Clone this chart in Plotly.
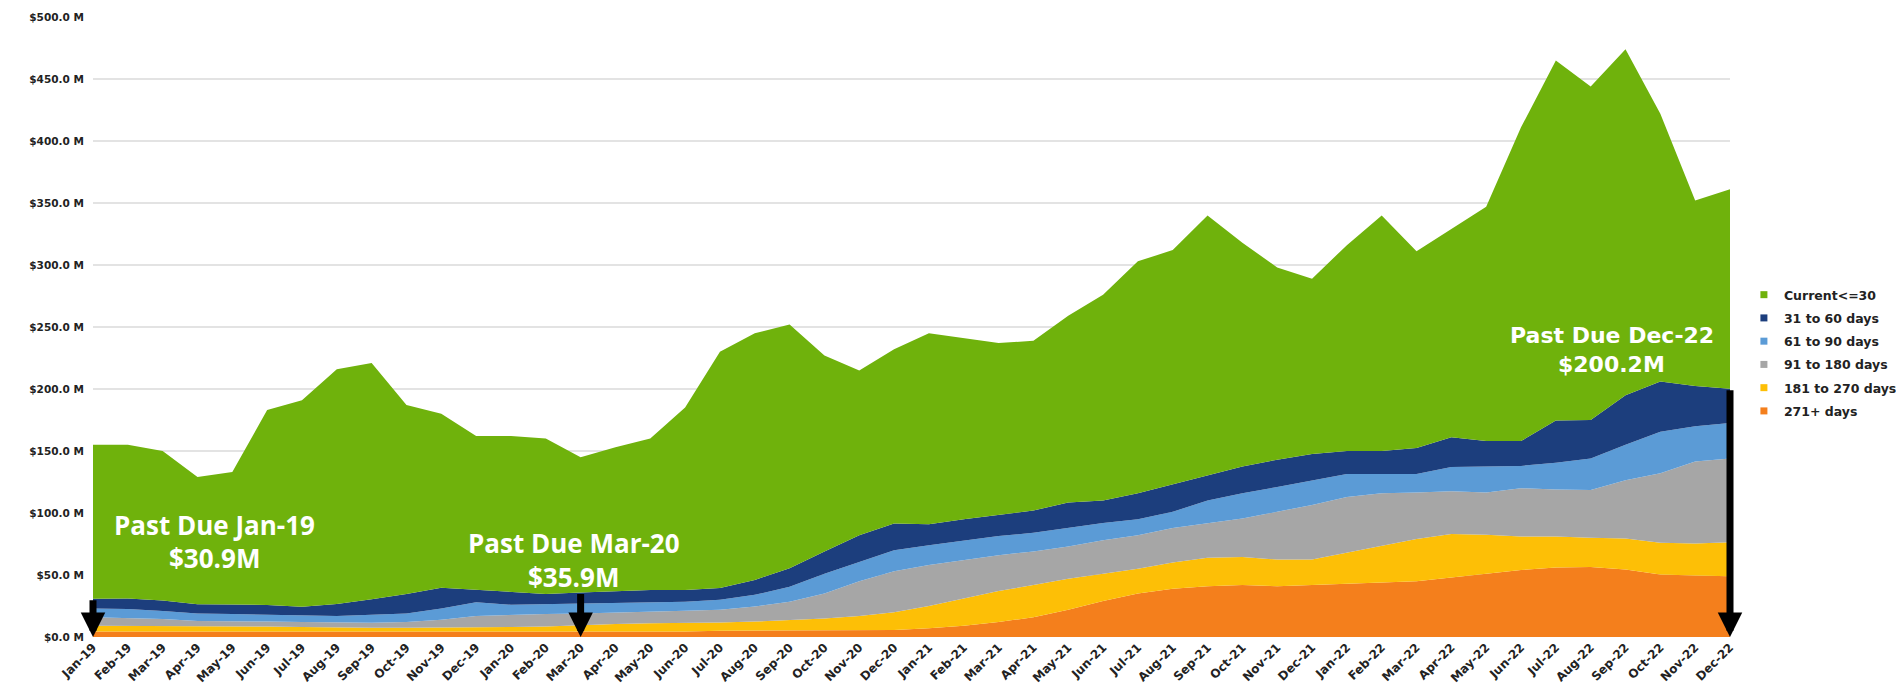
import plotly.graph_objects as go

months = ["Jan-19", "Feb-19", "Mar-19", "Apr-19", "May-19", "Jun-19", "Jul-19", "Aug-19", "Sep-19", "Oct-19", "Nov-19", "Dec-19",
          "Jan-20", "Feb-20", "Mar-20", "Apr-20", "May-20", "Jun-20", "Jul-20", "Aug-20", "Sep-20", "Oct-20", "Nov-20", "Dec-20",
          "Jan-21", "Feb-21", "Mar-21", "Apr-21", "May-21", "Jun-21", "Jul-21", "Aug-21", "Sep-21", "Oct-21", "Nov-21", "Dec-21",
          "Jan-22", "Feb-22", "Mar-22", "Apr-22", "May-22", "Jun-22", "Jul-22", "Aug-22", "Sep-22", "Oct-22", "Nov-22", "Dec-22"]

current_le_30 = [124.1, 124.0, 120.5, 102.5, 106.7, 157.2, 166.6, 189.4, 190.6, 152.3, 140.2, 124.0,
                 125.7, 125.3, 109.1, 116.0, 122.0, 147.0, 190.5, 199.0, 196.5, 158.0, 133.0, 140.5,
                 154.0, 146.0, 138.5, 137.0, 150.5, 166.0, 187.0, 189.0, 210.0, 180.5, 155.0, 141.5,
                 166.0, 190.0, 158.5, 168.0, 189.0, 253.0, 290.5, 269.0, 279.0, 216.0, 149.5, 160.8]
days_31_60 = [7.9, 8.5, 8.5, 7.5, 7.8, 7.8, 7.4, 9.6, 12.4, 15.7, 16.8, 10.0,
              10.3, 8.2, 8.9, 9.5, 10.0, 9.5, 9.5, 12.0, 15.0, 18.0, 21.5, 21.5,
              17.0, 17.0, 17.0, 18.0, 20.5, 18.0, 21.0, 22.0, 20.0, 21.5, 22.0, 21.5,
              18.5, 18.5, 21.0, 24.0, 20.5, 20.0, 34.0, 31.0, 40.0, 40.5, 32.5, 27.7]
days_61_90 = [7.0, 7.0, 6.5, 6.0, 5.5, 5.5, 5.0, 5.5, 6.5, 7.0, 9.0, 11.0,
              8.0, 8.0, 8.0, 7.9, 7.6, 7.3, 8.0, 9.5, 12.0, 16.0, 15.5, 17.0,
              16.0, 16.0, 15.5, 15.0, 15.0, 14.0, 13.0, 13.0, 18.0, 20.5, 20.0, 19.5,
              18.5, 15.5, 15.0, 19.5, 21.0, 18.0, 21.5, 25.5, 28.5, 33.5, 28.5, 28.5]
days_91_180 = [7.0, 6.5, 6.0, 4.5, 4.5, 4.0, 4.0, 4.0, 4.0, 4.5, 6.5, 9.0,
               10.0, 10.0, 9.3, 9.1, 9.4, 10.2, 10.4, 12.1, 14.8, 20.0, 28.0, 33.0,
               33.0, 31.0, 29.0, 27.0, 26.0, 27.0, 27.0, 28.0, 28.0, 31.0, 38.5, 44.0,
               45.0, 42.0, 37.5, 34.5, 34.0, 39.0, 38.0, 38.5, 47.0, 56.0, 66.0, 67.5]
days_181_270 = [4.5, 4.5, 4.0, 4.0, 4.0, 4.0, 3.5, 3.5, 3.5, 3.5, 3.5, 4.0,
                4.0, 4.2, 5.4, 6.0, 6.5, 6.5, 6.6, 7.4, 8.7, 10.0, 11.4, 14.4,
                18.0, 22.0, 25.0, 26.0, 25.0, 22.0, 20.0, 21.0, 23.0, 22.5, 21.5, 20.5,
                25.0, 30.5, 34.0, 35.0, 31.5, 27.0, 25.0, 23.5, 25.0, 25.5, 26.0, 27.5]
days_271_plus = [4.5, 4.5, 4.5, 4.5, 4.5, 4.5, 4.5, 4.0, 4.0, 4.0, 4.0, 4.0,
                 4.0, 4.3, 4.3, 4.5, 4.5, 4.5, 5.0, 5.0, 5.0, 5.0, 5.6, 5.6,
                 7.0, 9.0, 12.0, 16.0, 22.0, 29.0, 35.0, 39.0, 41.0, 42.0, 41.0, 42.0,
                 43.0, 43.5, 45.0, 48.0, 51.0, 54.0, 56.0, 56.5, 54.5, 50.5, 49.5, 49.0]

series_names = ["271+ days", "181 to 270 days", "91 to 180 days", "61 to 90 days", "31 to 60 days", "Current<=30"]
series_values = [days_271_plus, days_181_270, days_91_180, days_61_90, days_31_60, current_le_30]
series_colors = ["#f47f1c", "#fdbf06", "#a6a6a6", "#5b9bd6", "#1c3e7d", "#6fb20c"]

y_ticks = [0, 50, 100, 150, 200, 250, 300, 350, 400, 450, 500]
callout_months = ["Jan-19", "Mar-20", "Dec-22"]

fig = go.Figure()
for name, vals, col in zip(series_names, series_values, series_colors):
    fig.add_trace(go.Scatter(
        x=months, y=vals, name=name, stackgroup="aging", mode="lines",
        line=dict(width=0, color=col), fillcolor=col, showlegend=False,
        hovertemplate="%{x}: $%{y:.1f} M<extra>" + name + "</extra>"))

# legend entries (small square swatches, top item = Current<=30)
for name, col in reversed(list(zip(series_names, series_colors))):
    fig.add_trace(go.Scatter(
        x=[None], y=[None], name=name, mode="markers",
        marker=dict(symbol="square", size=7, color=col),
        legendgroup=name, showlegend=True))

# past-due totals at callout months, read from the data arrays
past_due = {}
for m in callout_months:
    i = months.index(m)
    past_due[m] = sum(v[i] for v in series_values[:-1])

text_style = dict(color="white", size=26, family="Open Sans, DejaVu Sans, sans-serif", weight="bold")
text_style_dec = dict(color="white", size=22, family="DejaVu Sans, sans-serif", weight="bold")
label_pos = {"Jan-19": (3.5, 90.5, 63.5, text_style),
             "Mar-20": (13.8, 75.5, 48.5, text_style),
             "Dec-22": (43.6, 243, 220, text_style_dec)}

for m in callout_months:
    i = months.index(m)
    val = past_due[m]
    # arrow from the past-due total down to the axis
    fig.add_annotation(x=i, y=0, ax=i, ay=val, xref="x", yref="y", axref="x", ayref="y",
                       text="", showarrow=True, arrowhead=2, arrowwidth=7, arrowsize=0.7,
                       arrowcolor="black", standoff=0)
    lx, ly1, ly2, fs = label_pos[m]
    fig.add_annotation(x=lx, y=ly1, xref="x", yref="y", text=f"Past Due {m}",
                       showarrow=False, font=fs, xanchor="center", yanchor="middle")
    fig.add_annotation(x=lx, y=ly2, xref="x", yref="y", text=f"${val:.1f}M",
                       showarrow=False, font=fs, xanchor="center", yanchor="middle")

fig.update_layout(
    width=1896, height=694,
    margin=dict(l=93, r=166, t=17, b=57, autoexpand=False),
    plot_bgcolor="white", paper_bgcolor="white",
    showlegend=True,
    legend=dict(x=1.0085, y=0.458, xanchor="left", yanchor="middle",
                font=dict(family="DejaVu Sans, sans-serif", size=12.5, color="#222222", weight="bold"),
                tracegroupgap=4, itemwidth=30, bgcolor="rgba(0,0,0,0)"),
    font=dict(family="DejaVu Sans, sans-serif", color="#222222"),
)
fig.update_xaxes(type="category", range=[0, len(months) - 1], tickangle=-45,
                 tickfont=dict(size=12, family="DejaVu Sans, sans-serif", color="#222222", weight="bold"),
                 showgrid=False, zeroline=False, showline=False, ticks="")
fig.update_yaxes(range=[0, 500], tickvals=y_ticks, ticktext=[f"${t:.1f} M" for t in y_ticks],
                 tickfont=dict(size=10.5, family="DejaVu Sans, sans-serif", color="#222222", weight="bold"),
                 showgrid=True, gridcolor="#e3e3e3", gridwidth=2, zeroline=False, showline=False,
                 ticks="outside", ticklen=6, tickcolor="rgba(0,0,0,0)")

fig.write_html("out.html", config={"displayModeBar": False},
               post_script="document.body.style.margin='0px';")
